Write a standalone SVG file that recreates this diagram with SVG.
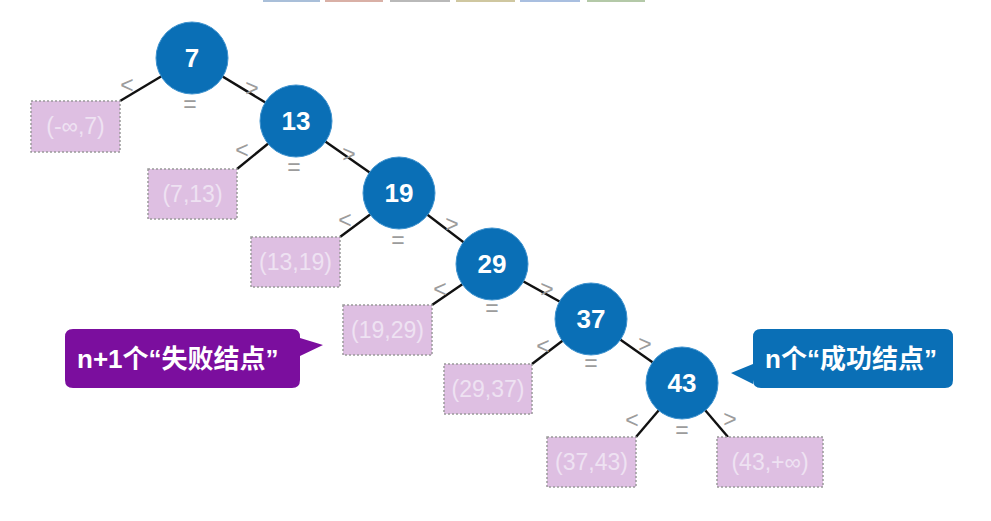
<svg xmlns="http://www.w3.org/2000/svg" width="991" height="521" viewBox="0 0 991 521">
<defs>
<style>
.node circle{fill:#0A6FB6;stroke:#3f93cf;stroke-width:1}
.node text{fill:#fff;font-family:"Liberation Sans","Noto Sans CJK SC",sans-serif;font-size:26px;font-weight:bold;text-anchor:middle}
.fail rect{fill:#DEBFE2;stroke:#9a9a9a;stroke-width:1.5;stroke-dasharray:2 2}
.fail text{fill:#EEE2F2;font-family:"Liberation Sans",sans-serif;font-size:23px;text-anchor:middle}
.sym{fill:#9c9c9c;font-family:"Liberation Sans",sans-serif;font-size:23px;text-anchor:middle}
.edges line{stroke:#111;stroke-width:2.4}
.call text{fill:#fff;font-family:"Liberation Sans","Noto Sans CJK SC",sans-serif;font-size:26px;font-weight:bold}
</style>
</defs>
<rect width="991" height="521" fill="#fff"/>
<g id="toolbar">
<rect x="263" y="0" width="57" height="2" fill="#a9bfd9"/>
<rect x="325" y="0" width="58" height="2" fill="#d9b0a6"/>
<rect x="390" y="0" width="60" height="2" fill="#b9b9b9"/>
<rect x="456" y="0" width="59" height="2" fill="#cfc7a0"/>
<rect x="520" y="0" width="60" height="2" fill="#a9bfe0"/>
<rect x="587" y="0" width="58" height="2" fill="#b4c9a8"/>
</g>
<g class="edges" id="connectors">
<line x1="192" y1="58" x2="120" y2="101"/>
<line x1="192" y1="58" x2="296" y2="121"/>
<line x1="296" y1="121" x2="237" y2="169"/>
<line x1="296" y1="121" x2="399" y2="193"/>
<line x1="399" y1="193" x2="340" y2="237"/>
<line x1="399" y1="193" x2="492" y2="264"/>
<line x1="492" y1="264" x2="432" y2="305"/>
<line x1="492" y1="264" x2="591" y2="319"/>
<line x1="591" y1="319" x2="532" y2="364"/>
<line x1="591" y1="319" x2="682" y2="383"/>
<line x1="682" y1="383" x2="636" y2="437"/>
<line x1="682" y1="383" x2="728" y2="437"/>
</g>
<g id="labels">
<text class="sym" x="127" y="93">&lt;</text><text class="sym" x="190" y="112">=</text><text class="sym" x="252" y="96">&gt;</text>
<text class="sym" x="242" y="158">&lt;</text><text class="sym" x="294" y="175">=</text><text class="sym" x="349" y="162">&gt;</text>
<text class="sym" x="345" y="228">&lt;</text><text class="sym" x="398" y="248">=</text><text class="sym" x="452" y="232">&gt;</text>
<text class="sym" x="440" y="297">&lt;</text><text class="sym" x="492" y="316">=</text><text class="sym" x="547" y="297">&gt;</text>
<text class="sym" x="543" y="354">&lt;</text><text class="sym" x="591" y="371">=</text><text class="sym" x="645" y="352">&gt;</text>
<text class="sym" x="632" y="428">&lt;</text><text class="sym" x="682" y="438">=</text><text class="sym" x="730" y="427">&gt;</text>
</g>
<g id="n7" class="node"><circle cx="192" cy="58" r="36"/><text x="192" y="67">7</text></g>
<g id="n13" class="node"><circle cx="296" cy="121" r="36"/><text x="296" y="130">13</text></g>
<g id="n19" class="node"><circle cx="399" cy="193" r="36"/><text x="399" y="202">19</text></g>
<g id="n29" class="node"><circle cx="492" cy="264" r="36"/><text x="492" y="273">29</text></g>
<g id="n37" class="node"><circle cx="591" cy="319" r="36"/><text x="591" y="328">37</text></g>
<g id="n43" class="node"><circle cx="682" cy="383" r="36"/><text x="682" y="392">43</text></g>
<g id="f0" class="fail"><rect x="31" y="101" width="89" height="51"/><text x="75.5" y="134">(-∞,7)</text></g>
<g id="f1" class="fail"><rect x="148" y="169" width="89" height="50"/><text x="192.5" y="202">(7,13)</text></g>
<g id="f2" class="fail"><rect x="251" y="237" width="89" height="50"/><text x="295.5" y="270">(13,19)</text></g>
<g id="f3" class="fail"><rect x="343" y="305" width="89" height="50"/><text x="387.5" y="338">(19,29)</text></g>
<g id="f4" class="fail"><rect x="444" y="364" width="88" height="50"/><text x="488" y="397">(29,37)</text></g>
<g id="f5" class="fail"><rect x="547" y="437" width="89" height="50"/><text x="591.5" y="470">(37,43)</text></g>
<g id="f6" class="fail"><rect x="717" y="437" width="106" height="50"/><text x="770" y="470">(43,+∞)</text></g>
<g id="callout-fail" class="call">
<path d="M73,329 H292 Q300,329 300,337 V338 L323,345 L300,356 V380 Q300,388 292,388 H73 Q65,388 65,380 V337 Q65,329 73,329 Z" fill="#7B0E9E"/>
<text x="77" y="368">n+1个“失败结点”</text>
</g>
<g id="callout-success" class="call">
<path d="M761,329 H945 Q953,329 953,337 V380 Q953,388 945,388 H761 Q753,388 753,380 V384 L731,373 L753,364 V337 Q753,329 761,329 Z" fill="#0A6FB6"/>
<text x="765" y="368">n个“成功结点”</text>
</g>
</svg>
